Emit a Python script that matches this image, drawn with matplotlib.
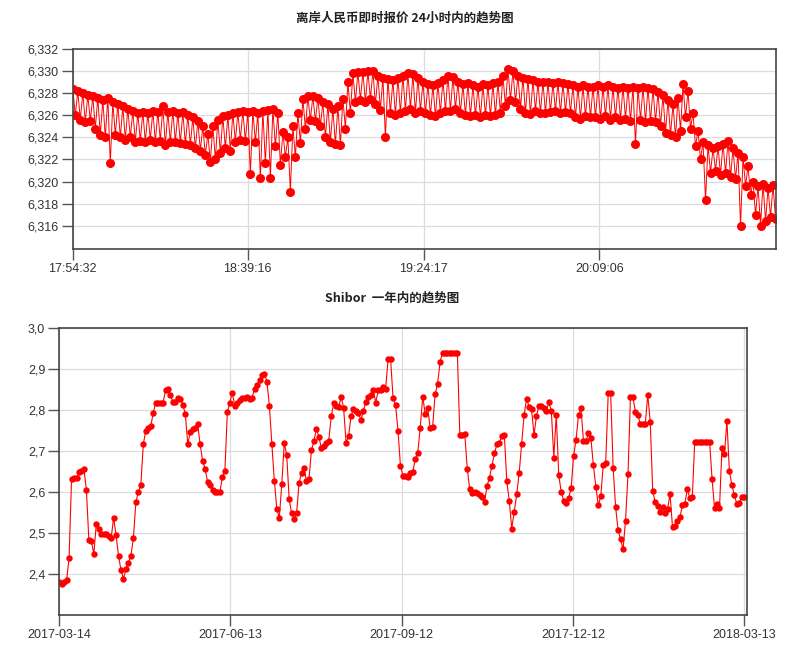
"""
离岸人民币即时报价 (24小时内) + Shibor 一年内的趋势图
两张上下排列的折线图, 红色点线, 逗号作小数点.
"""
import matplotlib
matplotlib.use('Agg')
import matplotlib.pyplot as plt
import matplotlib.dates as mdates
from matplotlib.ticker import FuncFormatter
import pandas as pd

# ---- 离岸人民币 (CNH) 报价, 高低交替 ----
CNH_START = '2018-03-13 17:54:32'
CNH_END = '2018-03-13 20:54:10'
CNH_VALUES = [
    6.3284, 6.3260, 6.3282, 6.3256, 6.3280, 6.3254, 6.3278, 6.3255, 6.3277, 6.3248,
    6.3276, 6.3242, 6.3274, 6.3240, 6.3276, 6.3217, 6.3272, 6.3242, 6.3270, 6.3240,
    6.3268, 6.3238, 6.3266, 6.3240, 6.3264, 6.3236, 6.3262, 6.3237, 6.3263, 6.3236,
    6.3262, 6.3238, 6.3264, 6.3236, 6.3263, 6.3237, 6.3268, 6.3233, 6.3263, 6.3236,
    6.3264, 6.3236, 6.3262, 6.3235, 6.3263, 6.3234, 6.3260, 6.3233, 6.3258, 6.3230,
    6.3255, 6.3228, 6.3250, 6.3224, 6.3243, 6.3218, 6.3250, 6.3220, 6.3256, 6.3226,
    6.3259, 6.3230, 6.3260, 6.3228, 6.3262, 6.3236, 6.3263, 6.3238, 6.3264, 6.3237,
    6.3263, 6.3207, 6.3264, 6.3236, 6.3262, 6.3203, 6.3264, 6.3217, 6.3265, 6.3203,
    6.3266, 6.3232, 6.3262, 6.3215, 6.3245, 6.3222, 6.3240, 6.3191, 6.3250, 6.3222,
    6.3262, 6.3235, 6.3275, 6.3248, 6.3277, 6.3256, 6.3277, 6.3255, 6.3276, 6.3250,
    6.3272, 6.3240, 6.3270, 6.3236, 6.3266, 6.3234, 6.3268, 6.3233, 6.3275, 6.3248,
    6.3290, 6.3262, 6.3298, 6.3272, 6.3299, 6.3274, 6.3299, 6.3272, 6.3300, 6.3275,
    6.3300, 6.3270, 6.3296, 6.3265, 6.3294, 6.3240, 6.3293, 6.3262, 6.3292, 6.3260,
    6.3294, 6.3262, 6.3296, 6.3264, 6.3298, 6.3266, 6.3297, 6.3262, 6.3294, 6.3264,
    6.3290, 6.3262, 6.3288, 6.3260, 6.3287, 6.3259, 6.3289, 6.3262, 6.3292, 6.3264,
    6.3296, 6.3264, 6.3295, 6.3266, 6.3290, 6.3262, 6.3288, 6.3260, 6.3289, 6.3259,
    6.3287, 6.3260, 6.3286, 6.3258, 6.3288, 6.3260, 6.3287, 6.3259, 6.3289, 6.3260,
    6.3290, 6.3262, 6.3296, 6.3268, 6.3302, 6.3274, 6.3300, 6.3272, 6.3296, 6.3266,
    6.3294, 6.3262, 6.3293, 6.3261, 6.3292, 6.3264, 6.3290, 6.3262, 6.3290, 6.3262,
    6.3290, 6.3263, 6.3289, 6.3264, 6.3290, 6.3262, 6.3289, 6.3263, 6.3288, 6.3262,
    6.3287, 6.3258, 6.3286, 6.3257, 6.3287, 6.3259, 6.3286, 6.3258, 6.3286, 6.3258,
    6.3287, 6.3257, 6.3286, 6.3259, 6.3287, 6.3256, 6.3286, 6.3258, 6.3285, 6.3256,
    6.3286, 6.3257, 6.3285, 6.3255, 6.3286, 6.3234, 6.3285, 6.3256, 6.3286, 6.3254,
    6.3285, 6.3255, 6.3284, 6.3254, 6.3281, 6.3250, 6.3278, 6.3244, 6.3274, 6.3242,
    6.3270, 6.3240, 6.3276, 6.3246, 6.3288, 6.3258, 6.3282, 6.3248, 6.3262, 6.3232,
    6.3246, 6.3220, 6.3236, 6.3183, 6.3233, 6.3208, 6.3230, 6.3210, 6.3232, 6.3206,
    6.3234, 6.3208, 6.3237, 6.3204, 6.3230, 6.3202, 6.3226, 6.3160, 6.3222, 6.3196,
    6.3214, 6.3188, 6.3200, 6.3170, 6.3196, 6.3160, 6.3198, 6.3164, 6.3194, 6.3168,
    6.3197, 6.3166,
]
CNH_YTICKS = [6.316, 6.318, 6.320, 6.322, 6.324, 6.326, 6.328, 6.330, 6.332]
CNH_TICKS = ['2018-03-13 17:54:32', '2018-03-13 18:39:16',
             '2018-03-13 19:24:17', '2018-03-13 20:09:06']

# ---- Shibor 一年内 ----
SHIBOR_START = '2017-03-14'
SHIBOR_END = '2018-03-13'
SHIBOR_VALUES = [
    2.380, 2.375, 2.380, 2.385, 2.440, 2.633, 2.635, 2.635, 2.648, 2.652,
    2.657, 2.604, 2.483, 2.480, 2.449, 2.522, 2.510, 2.497, 2.497, 2.497,
    2.492, 2.487, 2.537, 2.495, 2.443, 2.410, 2.388, 2.413, 2.428, 2.445,
    2.487, 2.575, 2.600, 2.616, 2.716, 2.750, 2.756, 2.760, 2.792, 2.818,
    2.818, 2.818, 2.818, 2.848, 2.851, 2.836, 2.819, 2.819, 2.829, 2.826,
    2.813, 2.790, 2.716, 2.747, 2.753, 2.756, 2.765, 2.716, 2.676, 2.657,
    2.625, 2.616, 2.605, 2.601, 2.601, 2.601, 2.637, 2.652, 2.795, 2.818,
    2.842, 2.810, 2.816, 2.824, 2.829, 2.830, 2.832, 2.826, 2.830, 2.852,
    2.860, 2.873, 2.886, 2.889, 2.869, 2.810, 2.716, 2.627, 2.559, 2.537,
    2.619, 2.720, 2.690, 2.582, 2.548, 2.533, 2.549, 2.622, 2.647, 2.659,
    2.627, 2.631, 2.702, 2.724, 2.754, 2.735, 2.708, 2.712, 2.720, 2.725,
    2.785, 2.816, 2.810, 2.808, 2.832, 2.806, 2.720, 2.736, 2.785, 2.803,
    2.798, 2.792, 2.776, 2.798, 2.820, 2.832, 2.836, 2.850, 2.818, 2.848,
    2.850, 2.855, 2.852, 2.924, 2.924, 2.830, 2.813, 2.750, 2.663, 2.640,
    2.640, 2.637, 2.647, 2.650, 2.680, 2.696, 2.757, 2.833, 2.790, 2.806,
    2.757, 2.759, 2.838, 2.863, 2.917, 2.940, 2.940, 2.940, 2.940, 2.940,
    2.940, 2.940, 2.740, 2.740, 2.741, 2.657, 2.607, 2.597, 2.601, 2.597,
    2.593, 2.589, 2.576, 2.615, 2.635, 2.664, 2.694, 2.717, 2.720, 2.737,
    2.739, 2.626, 2.578, 2.511, 2.552, 2.594, 2.647, 2.717, 2.788, 2.828,
    2.808, 2.802, 2.739, 2.786, 2.810, 2.810, 2.804, 2.798, 2.819, 2.798,
    2.684, 2.789, 2.641, 2.601, 2.578, 2.574, 2.586, 2.609, 2.689, 2.727,
    2.789, 2.804, 2.724, 2.724, 2.743, 2.731, 2.666, 2.613, 2.568, 2.590,
    2.666, 2.672, 2.841, 2.841, 2.658, 2.563, 2.507, 2.485, 2.460, 2.530,
    2.643, 2.833, 2.831, 2.796, 2.788, 2.766, 2.766, 2.766, 2.837, 2.772,
    2.602, 2.576, 2.566, 2.552, 2.564, 2.550, 2.558, 2.595, 2.515, 2.518,
    2.530, 2.538, 2.568, 2.571, 2.607, 2.585, 2.587, 2.723, 2.723, 2.723,
    2.723, 2.723, 2.723, 2.723, 2.632, 2.560, 2.571, 2.560, 2.708, 2.693,
    2.773, 2.652, 2.617, 2.593, 2.571, 2.574, 2.587, 2.589,
]
SHIBOR_YTICKS = [2.4, 2.5, 2.6, 2.7, 2.8, 2.9, 3.0]
SHIBOR_TICKS = ['2017-03-14', '2017-06-13', '2017-09-12', '2017-12-12', '2018-03-13']

RED = '#ff0000'
DARK = '#333333'
GRID = '#dcdcdc'


def comma_fmt(decimals):
    return FuncFormatter(lambda v, p: f'{v:.{decimals}f}'.replace('.', ','))


def style_axes(ax):
    for s in ax.spines.values():
        s.set_color('#444444')
        s.set_linewidth(1.2)
    ax.grid(True, color=GRID, linewidth=0.9)
    ax.set_axisbelow(True)
    ax.tick_params(direction='out', length=8, width=1, color='#555555',
                   labelcolor=DARK, labelsize=9, pad=2)
    for lab in ax.get_xticklabels() + ax.get_yticklabels():
        lab.set_fontfamily(['Liberation Sans', 'DejaVu Sans'])


def main():
    fig = plt.figure(figsize=(8, 6.54), dpi=100)

    # --- 上图: CNH ---
    ax1 = fig.add_axes([0.091, 0.6193, 0.879, 0.3058])
    t1 = pd.date_range(CNH_START, CNH_END, periods=len(CNH_VALUES))
    ax1.plot(t1, CNH_VALUES, color=RED, linewidth=0.7, marker='o',
             markersize=6.5, markeredgewidth=0)
    ax1.set_xlim(pd.Timestamp(CNH_START), pd.Timestamp('2018-03-13 20:54:17'))
    ax1.set_ylim(6.3139, 6.332)
    ax1.set_yticks(CNH_YTICKS)
    ax1.yaxis.set_major_formatter(comma_fmt(3))
    ax1.set_xticks([pd.Timestamp(t) for t in CNH_TICKS])
    ax1.xaxis.set_major_formatter(mdates.DateFormatter('%H:%M:%S'))
    style_axes(ax1)

    # --- 下图: Shibor ---
    ax2 = fig.add_axes([0.074, 0.0596, 0.86, 0.4388])
    t2 = pd.date_range(SHIBOR_START, SHIBOR_END, periods=len(SHIBOR_VALUES))
    ax2.plot(t2, SHIBOR_VALUES, color=RED, linewidth=0.8, marker='o',
             markersize=4.6, markeredgewidth=0)
    ax2.set_xlim(pd.Timestamp(SHIBOR_START), pd.Timestamp('2018-03-14 14:00'))
    ax2.set_ylim(2.3, 3.0)
    ax2.set_yticks(SHIBOR_YTICKS)
    ax2.yaxis.set_major_formatter(comma_fmt(1))
    ax2.set_xticks([pd.Timestamp(t) for t in SHIBOR_TICKS])
    ax2.xaxis.set_major_formatter(mdates.DateFormatter('%Y-%m-%d'))
    style_axes(ax2)

    title_font = ['Noto Sans CJK SC', 'DejaVu Sans']
    fig.text(0.506, 0.9725, '离岸人民币即时报价 24小时内的趋势图', ha='center',
             va='center', fontsize=9, fontweight='bold', family=title_font,
             color='#222222')
    fig.text(0.49, 0.5443, 'Shibor  一年内的趋势图', ha='center', va='center',
             fontsize=9, fontweight='bold', family=title_font, color='#222222')

    fig.savefig('out.png', dpi=100, facecolor='white')
    plt.close(fig)


if __name__ == '__main__':
    main()
